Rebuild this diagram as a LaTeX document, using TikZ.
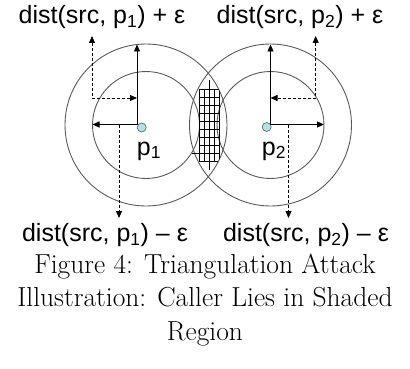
\documentclass[tikz,border=0pt]{standalone}
\usepackage{fontspec}
\newfontfamily\labelfont{Liberation Sans}
\usetikzlibrary{arrows.meta}
\definecolor{ringgray}{HTML}{5A5A5A}
\definecolor{dotfill}{HTML}{B4E1E1}

\begin{document}
\begin{tikzpicture}[x=1pt, y=-1pt,
    ring/.style={draw=ringgray, line width=0.9pt},
    rayarrow/.style={draw=black, line width=0.9pt, -{Triangle[length=7pt,width=6pt]}},
    epsarrow/.style={draw=black, line width=0.8pt, dash pattern=on 3pt off 2pt,
                     -{Triangle[length=7pt,width=6pt]}},
    site/.style={circle, draw=ringgray, fill=dotfill, line width=0.6pt,
                 minimum size=9pt, inner sep=0pt},
    distlabel/.style={font=\labelfont\fontsize{25}{30}\selectfont, inner sep=0pt},
    sitelabel/.style={font=\labelfont\fontsize{25}{30}\selectfont, inner sep=0pt}
  ]
  \useasboundingbox (0,0) rectangle (410,369);

  % outer and inner rings
  \draw[ring] (146,125) circle[radius=81pt];
  \draw[ring] (146,125) circle[radius=53.5pt];
  \draw[ring] (270.5,125) circle[radius=81pt];
  \draw[ring] (270.5,125) circle[radius=53.5pt];

  % shaded region
  \begin{scope}
    \clip (146,125) circle[radius=81pt];
    \clip (270.5,125) circle[radius=81pt];
    \foreach \gx in {199,204,...,219}
      \draw[line width=0.8pt] (\gx,89) -- (\gx,161);
    \foreach \gy in {89,97,...,161}
      \draw[line width=0.8pt] (199,\gy) -- (219,\gy);
    \draw[line width=0.8pt] (209,80) -- (209,170);
  \end{scope}
  \draw[line width=0.8pt] (192,153) -- (199,153);

  % sites
  \node[site] (p1) at (141.7,127.5) {};
  \node[site] (p2) at (266.7,127) {};
  \node[sitelabel] (p1lbl) at (149,151) {p\textsubscript{1}};
  \node[sitelabel] (p2lbl) at (274,151) {p\textsubscript{2}};

  \coordinate (o1) at (137,124.5);
  \coordinate (o1top) at (137,44.5);
  \coordinate (o1left) at (92.5,124.5);
  \coordinate (o2) at (270.5,124.5);
  \coordinate (o2top) at (270.5,44.5);
  \coordinate (o2right) at (324,124.5);
  \draw[rayarrow] (o1) -- (o1top);
  \draw[rayarrow] (o1) -- (o1left);
  \draw[rayarrow] (o2) -- (o2top);
  \draw[rayarrow] (o2) -- (o2right);

  % epsilon margins
  \coordinate (e1up) at (92,36);
  \coordinate (e1in) at (137,98);
  \coordinate (e1src) at (119,124.5);
  \coordinate (e1dn) at (119,218);
  \coordinate (e2up) at (315.7,36);
  \coordinate (e2in) at (270.5,98);
  \coordinate (e2src) at (288.5,124.5);
  \coordinate (e2dn) at (288.5,218);
  \draw[epsarrow, {Triangle[length=7pt,width=6pt]}-{Triangle[length=7pt,width=6pt]}] (e1up) |- (e1in);
  \draw[epsarrow, {Triangle[length=7pt,width=6pt]}-{Triangle[length=7pt,width=6pt]}] (e2up) |- (e2in);
  \draw[epsarrow] (e1src) -- (e1dn);
  \draw[epsarrow] (e2src) -- (e2dn);

  % labels
  \node[distlabel] (up1) at (102,17) {dist(src, p\textsubscript{1}) + ε};
  \node[distlabel] (up2) at (300,17) {dist(src, p\textsubscript{2}) + ε};
  \node[distlabel] (dn1) at (105,235) {dist(src, p\textsubscript{1}) – ε};
  \node[distlabel] (dn2) at (306,235) {dist(src, p\textsubscript{2}) – ε};

  \node[align=center, font=\fontsize{27.5}{33.5}\selectfont, inner sep=0pt] (cap) at (205,300)
    {Figure 4: Triangulation Attack\\Illustration: Caller Lies in Shaded\\Region};
\end{tikzpicture}
\end{document}
